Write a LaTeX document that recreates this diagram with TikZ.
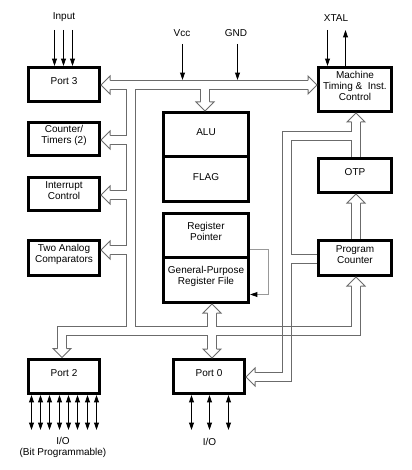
\documentclass[tikz,border=0pt]{standalone}
\usepackage{fontspec}
\setmainfont{Liberation Sans}
\usetikzlibrary{arrows.meta,fit}
\definecolor{busgray}{gray}{0.42}
\newcommand\hollowarr[3]{\filldraw[busline, fill=white, shift={(#1,#2)}, rotate=#3] (0,4.5) -- (0,9) -- (9,0) -- (0,-9) -- (0,-4.5);}
\begin{document}
\begin{tikzpicture}[x=0.75pt,y=-0.75pt, font=\fontsize{7.5}{8.2}\selectfont,
 box/.style={draw, line width=2.25pt, inner sep=0pt, align=center},
 chout/.style={draw=busgray, line width=7.5pt, line join=miter},
 chin/.style={draw=white, line width=6pt, line join=miter},
 busline/.style={draw=busgray, line width=0.75pt},
 sarr/.style={line width=0.75pt, -{Triangle[length=5.5pt,width=3.6pt]}},
 darr/.style={line width=0.75pt, {Triangle[length=5.5pt,width=3.6pt]}-{Triangle[length=5.5pt,width=3.6pt]}},
 loopline/.style={draw=black!40, line width=0.75pt, -{Triangle[length=5.5pt,width=3.6pt,color=black]}},
 lbl/.style={inner sep=0pt, align=center}]
\useasboundingbox (0,0) rectangle (411,470);

% ---------- boxes ----------
\node[box, fit={(28.5,67.5) (99.5,101.5)}] (port3) {Port 3};
\node[box, fit={(28.5,122.5) (99.5,155.5)}] (ct) {Counter/\\Timers (2)};
\node[box, fit={(28.5,177.5) (99.5,210.5)}] (ic) {Interrupt\\Control};
\node[box, fit={(28.5,240.5) (99.5,275.5)}] (cmp) {Two Analog\\Comparators};
\node[box, fit={(28.5,359.5) (99.5,393.5)}] (port2) {Port 2};
\node[box, fit={(173.5,359.5) (244.5,393.5)}] (port0) {Port 0};
\node[box, fit={(163.5,112.5) (248.5,156.5)}] (alu) {\raisebox{-2pt}{ALU}};
\node[box, fit={(163.5,156.5) (248.5,201.5)}] (flag) {\raisebox{-2pt}{FLAG}};
\node[box, fit={(163.5,213.5) (248.5,257.5)}] (regptr) {Register\\Pointer};
\node[box, fit={(163.5,257.5) (248.5,302.5)}] (gpreg) {General-Purpose\\Register File};
\node[box, fit={(318.5,67.5) (391.5,111.5)}] (mt) {Machine\\Timing \&~ Inst.\\Control};
\node[box, fit={(318.5,158.5) (391.5,192.5)}] (otp) {OTP};
\node[box, fit={(318.5,240.5) (391.5,275.5)}] (pc) {Program\\Counter};

% ---------- labels ----------
\node[lbl] (input) at (64,17) {Input};
\node[lbl] (vcc) at (182,33) {Vcc};
\node[lbl] (gnd) at (236,33) {GND};
\node[lbl] (xtal) at (336,18) {XTAL};
\node[lbl] (io2) at (63,447) {I/O\\(Bit Programmable)};
\node[lbl] (io0) at (209.5,441.5) {I/O};

% ---------- bus network A ----------
\foreach \s in {chout,chin}{
  \draw[\s] (110,85) -- (308,85)
            (205,85) -- (205,102)
            (131,85) -- (131,331)
            (62,348.5) -- (62,331) -- (356,331) -- (356,286)
            (110,140) -- (131,140)
            (110,195) -- (131,195)
            (110,250) -- (131,250)
            (212,313) -- (212,349);
}
% ---------- bus network B ----------
\foreach \s in {chout,chin}{
  \draw[\s] (255,377) -- (287,377) -- (287,136) -- (356,136) -- (356,122)
            (356,136) -- (356,157)
            (287,259) -- (317,259)
            (356,203) -- (356,239);
}
% crossing lines of the lower bus
\draw[busline] (281,326.5) -- (293,326.5) (281,335.5) -- (293,335.5);

% ---------- hollow arrow heads ----------
\hollowarr{110}{85}{180}
\hollowarr{110}{140}{180}
\hollowarr{110}{195}{180}
\hollowarr{110}{250}{180}
\hollowarr{308}{85}{0}
\hollowarr{205}{102}{270}
\hollowarr{62}{348.5}{270}
\hollowarr{212}{313}{90}
\hollowarr{212}{349}{270}
\hollowarr{356}{286}{90}
\hollowarr{255}{377}{180}
\hollowarr{356}{122}{90}
\hollowarr{356}{203}{90}

% ---------- register pointer loop ----------
\coordinate (loopA) at (268.5,249.5);
\coordinate (loopB) at (268.5,294.5);
\draw[loopline] (regptr.east |- loopA) -- (loopA) -- (loopB) -- (gpreg.east |- loopB);

% ---------- signal arrows ----------
\foreach \x in {54.5,63.5,72.5}
  \draw[sarr] (\x,30) -- (\x,30 |- port3.north);
\draw[sarr] (327.5,30) -- (327.5,30 |- mt.north);
\draw[sarr] (345.5,30 |- mt.north) -- (345.5,30);
\draw[sarr] (182.5,44) -- (182.5,80);
\draw[sarr] (237.5,44) -- (237.5,80);
\foreach \x in {31.5,40.5,49.5,59.5,68.5,77.5,87.5,96.5}
  \draw[darr] (\x,30 |- port2.south) -- (\x,430);
\foreach \x in {191.5,209.5,228.5}
  \draw[darr] (\x,30 |- port0.south) -- (\x,430);
\end{tikzpicture}
\end{document}
